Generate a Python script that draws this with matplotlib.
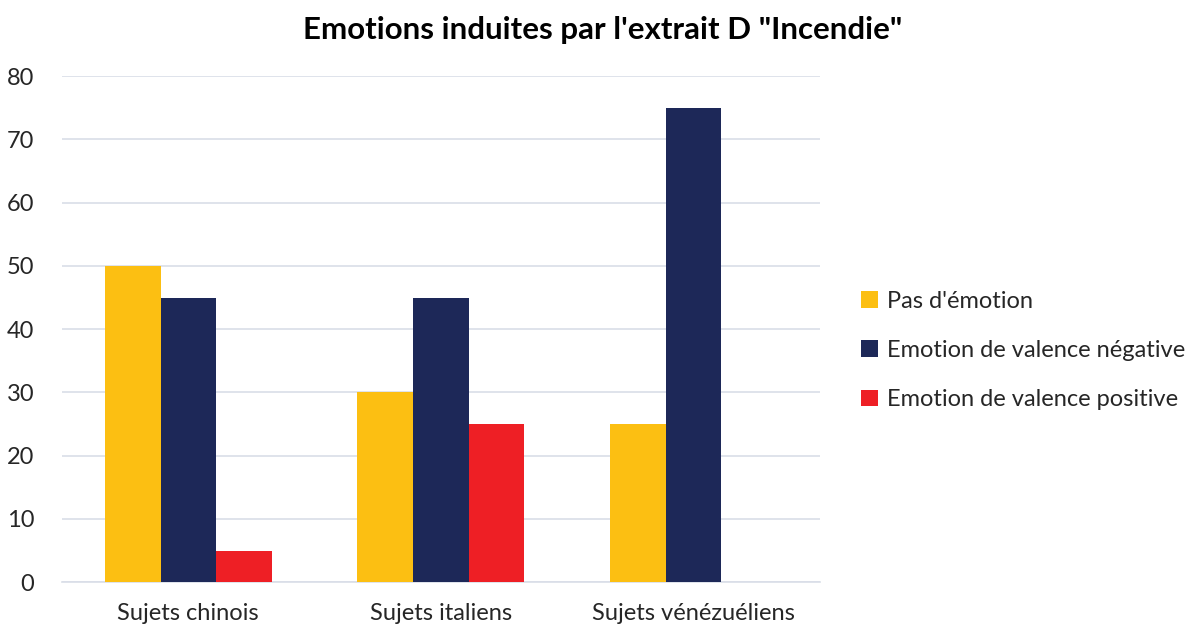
import numpy as np
import matplotlib.pyplot as plt

plt.rcParams['font.family'] = ['Lato', 'DejaVu Sans']

# data
groups = ['Sujets chinois', 'Sujets italiens', 'Sujets vénézuéliens']
series_names = ["Pas d'émotion", 'Emotion de valence négative', 'Emotion de valence positive']
pas_emotion = [50, 30, 25]
valence_negative = [45, 45, 75]
valence_positive = [5, 25, 0]

colors = ['#FCBF12', '#1D2858', '#EE1F25']

fig = plt.figure(figsize=(11.93, 6.3), dpi=100)
ax = fig.add_axes([0.052, 0.076, 0.635, 0.803])

x = np.arange(len(groups))
width = 0.22
for i, (name, vals) in enumerate(zip(series_names, [pas_emotion, valence_negative, valence_positive])):
    ax.bar(x + (i - 1) * width, vals, width, color=colors[i], label=name, zorder=3)

ax.set_xlim(-0.5, 2.5)
ax.set_ylim(0, 80)
ax.set_yticks(range(0, 81, 10))
ax.set_xticks(x, groups)
ax.grid(axis='y', color='#D9DEE8', linewidth=1.2, zorder=0)
for s in ['top', 'right', 'left']:
    ax.spines[s].set_visible(False)
ax.spines['bottom'].set_color('#D9DEE8')
ax.spines['bottom'].set_linewidth(1.2)
ax.tick_params(axis='both', length=0, labelsize=17, colors='#262626')
ax.tick_params(axis='y', pad=20)
ax.tick_params(axis='x', pad=15)

fig.suptitle('Emotions induites par l\'extrait D "Incendie"', fontsize=22.5,
             fontweight='bold', x=0.505, y=0.975)

ax.legend(loc='center left', bbox_to_anchor=(1.055, 0.458), frameon=False,
          fontsize=17, handlelength=0.7, handleheight=0.7, handletextpad=0.4,
          labelspacing=1.2, borderpad=0, borderaxespad=0, labelcolor='#262626')

fig.savefig('out.png', dpi=100)
